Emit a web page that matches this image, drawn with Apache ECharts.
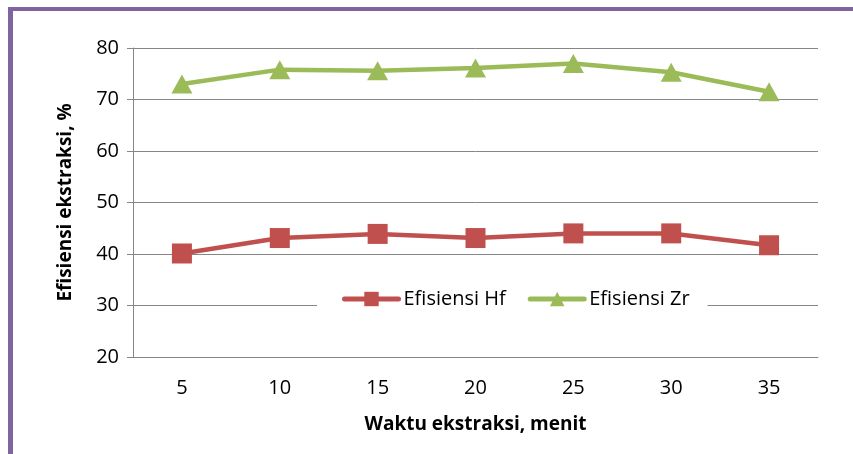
<!DOCTYPE html>
<html>
<head>
<meta charset="utf-8">
<script src="https://cdn.jsdelivr.net/npm/echarts@6/dist/echarts.min.js"></script>
<style>
  html, body { margin: 0; padding: 0; background: #fff; }
  #chart { width: 853px; height: 454px; }
</style>
</head>
<body>
<div id="chart"></div>
<script>
// waktu ekstraksi (menit)
const waktu = ['5', '10', '15', '20', '25', '30', '35'];
// efisiensi ekstraksi (%)
const efisiensiHf = [40.1, 43.1, 43.9, 43.1, 44.0, 44.0, 41.7];
const efisiensiZr = [73.0, 75.8, 75.6, 76.1, 77.0, 75.3, 71.5];
const yTicks = [20, 30, 40, 50, 60, 70, 80];

const red = '#C0504D';
const green = '#9BBB59';
const grey = '#868686';
const font = 'Open Sans';

const chart = echarts.init(document.getElementById('chart'));

const option = {
    animation: false,
    textStyle: { fontFamily: font },
    graphic: [
        // bingkai ungu
        { type: 'rect', shape: { x: 8, y: 7, width: 845, height: 4 }, style: { fill: '#8064A2' }, z: 10 },
        { type: 'rect', shape: { x: 8, y: 7, width: 5, height: 447 }, style: { fill: '#8064A2' }, z: 10 }
    ],
    grid: { left: 133, top: 48, right: 35, bottom: 97 },
    legend: {
        left: 317,
        top: 285,
        padding: [4, 18, 4, 25],
        backgroundColor: '#fff',
        itemWidth: 54,
        itemHeight: 18,
        itemGap: 22,
        lineStyle: { width: 5, cap: 'round' },
        textStyle: { fontFamily: font, fontSize: 20, color: '#000' },
        data: ['Efisiensi Hf', 'Efisiensi Zr']
    },
    xAxis: {
        type: 'category',
        data: waktu,
        boundaryGap: true,
        name: 'Waktu ekstraksi, menit',
        nameLocation: 'middle',
        nameGap: 58,
        nameTextStyle: { fontFamily: font, fontSize: 19, fontWeight: 'bold', color: '#000' },
        axisLine: { lineStyle: { color: grey, width: 1 } },
        axisTick: { length: 7, lineStyle: { color: grey } },
        axisLabel: { margin: 21, fontSize: 20, color: '#000', fontFamily: font }
    },
    yAxis: {
        type: 'value',
        min: yTicks[0],
        max: yTicks[yTicks.length - 1],
        interval: 10,
        name: 'Efisiensi ekstraksi, %',
        nameLocation: 'middle',
        nameGap: 58,
        nameTextStyle: { fontFamily: font, fontSize: 19, fontWeight: 'bold', color: '#000' },
        axisLine: { show: true, lineStyle: { color: grey, width: 1 } },
        axisTick: { show: true, length: 6, lineStyle: { color: grey } },
        axisLabel: { margin: 14, fontSize: 20, color: '#000', fontFamily: font },
        splitLine: { lineStyle: { color: grey, width: 1 } }
    },
    series: [
        {
            name: 'Efisiensi Hf',
            type: 'line',
            data: efisiensiHf,
            symbol: 'rect',
            symbolSize: 20,
            lineStyle: { color: red, width: 4.5 },
            itemStyle: { color: red },
            z: 3
        },
        {
            name: 'Efisiensi Zr',
            type: 'line',
            data: efisiensiZr,
            symbol: 'triangle',
            symbolSize: [21, 19],
            lineStyle: { color: green, width: 4.5 },
            itemStyle: { color: green },
            z: 3
        }
    ]
};

chart.setOption(option);
</script>
</body>
</html>
